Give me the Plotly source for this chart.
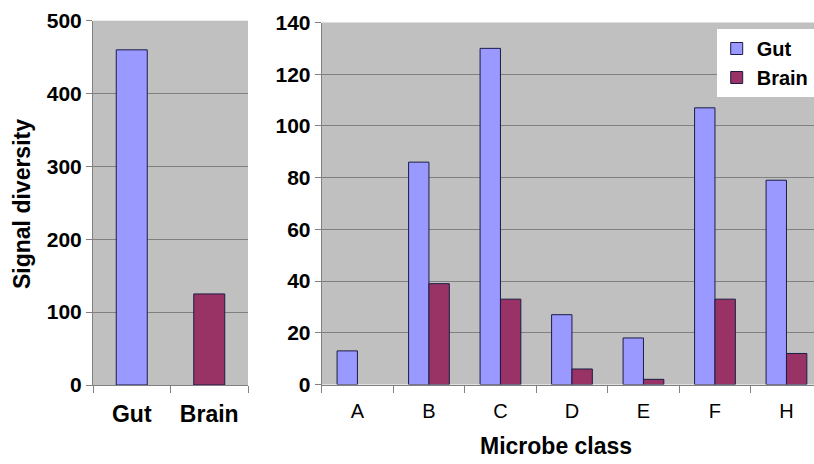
import plotly.graph_objects as go

# ---- data ----
total_labels = ["Gut", "Brain"]
total_values = [460, 125]

classes = ["A", "B", "C", "D", "E", "F", "H"]
gut_values = [13, 86, 130, 27, 18, 107, 79]
brain_values = [None, 39, 33, 6, 2, 33, 12]

left_ticks = [0, 100, 200, 300, 400, 500]
right_ticks = [0, 20, 40, 60, 80, 100, 120, 140]

GUT = "#9999FF"
BRAIN = "#993366"
EDGE = "#1c1c48"
GRID = "#808080"
BG = "#C0C0C0"
FONT = "Liberation Sans, Arial, sans-serif"

W, H = 814, 464

fig = go.Figure()

fig.add_trace(go.Bar(
    x=total_labels, y=total_values,
    marker=dict(color=[GUT, BRAIN], line=dict(color=EDGE, width=1)),
    width=0.4, showlegend=False, xaxis="x", yaxis="y",
))

bw = 0.285
fig.add_trace(go.Bar(
    name="Gut", x=classes, y=gut_values,
    marker=dict(color=GUT, line=dict(color=EDGE, width=1)),
    width=bw, offset=-bw, xaxis="x2", yaxis="y2",
))
fig.add_trace(go.Bar(
    name="Brain", x=classes, y=brain_values,
    marker=dict(color=BRAIN, line=dict(color=EDGE, width=1)),
    width=bw, offset=0, xaxis="x2", yaxis="y2",
))

ytick_font = dict(family=FONT, size=21, color="black", weight="bold")

common_x = dict(
    type="category", showgrid=False, showline=True, linecolor=GRID, linewidth=1,
    ticks="outside", ticklen=7, tickcolor=GRID, tickson="boundaries",
    zeroline=False, fixedrange=True, ticklabelstandoff=8,
)
common_y = dict(
    showgrid=True, gridcolor=GRID, gridwidth=1, showline=True, linecolor=GRID,
    linewidth=1, ticks="outside", ticklen=6, tickcolor=GRID, zeroline=False,
    tickfont=ytick_font, fixedrange=True,
)

fig.update_layout(
    width=W, height=H,
    margin=dict(l=0, r=0, t=0, b=0, autoexpand=False),
    paper_bgcolor="white", plot_bgcolor=BG,
    font=dict(family=FONT, color="black"),
    barmode="group",
    xaxis=dict(domain=[93 / W, 248 / W], anchor="y", range=[-0.5, 1.5],
               tickfont=dict(family=FONT, size=23, color="black", weight="bold"),
               **common_x),
    yaxis=dict(domain=[1 - 385 / H, 1 - 20.7 / H], anchor="x", range=[0, 500],
               tickvals=left_ticks, **common_y),
    xaxis2=dict(domain=[321.7 / W, 1.0], anchor="y2", range=[-0.5, 6.385],
                tickfont=dict(family=FONT, size=20, color="black"),
                **common_x),
    yaxis2=dict(domain=[1 - 384.5 / H, 1 - 22.5 / H], anchor="x2", range=[0, 140],
                tickvals=right_ticks, **common_y),
    legend=dict(x=716.7 / W, y=1 - 29 / H, xanchor="left", yanchor="top",
                bgcolor="white", borderwidth=0,
                font=dict(family=FONT, size=20, color="black", weight="bold")),
    annotations=[
        dict(text="<b>Signal diversity</b>", x=22 / W, y=1 - 204 / H,
             xref="paper", yref="paper", textangle=-90, showarrow=False,
             font=dict(family=FONT, size=23, color="black"),
             xanchor="center", yanchor="middle"),
        dict(text="<b>Microbe class</b>", x=555.5 / W, y=1 - 446 / H,
             xref="paper", yref="paper", showarrow=False,
             font=dict(family=FONT, size=23, color="black"),
             xanchor="center", yanchor="middle"),
    ],
)

fig.write_html("out.html")
